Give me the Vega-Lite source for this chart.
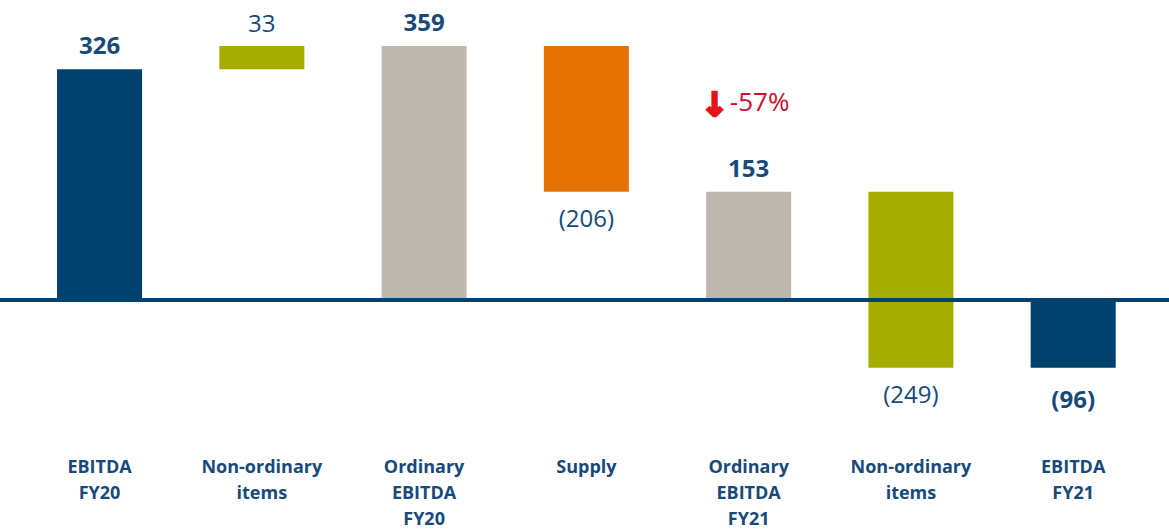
{
  "$schema": "https://vega.github.io/schema/vega-lite/v6.json",
  "autosize": "none",
  "padding": {"left": 0, "right": 0, "top": 0, "bottom": 91},
  "width": 1169,
  "height": 440,
  "background": "white",
  "config": {"view": {"stroke": null}, "font": "Open Sans"},
  "data": {
    "values": [
      {"name": "EBITDA|FY20", "type": "EBITDA", "lo": 0, "hi": 326, "label": "326", "pos": "above", "bold": true},
      {"name": "Non-ordinary|items", "type": "NonOrd", "lo": 326, "hi": 359, "label": "33", "pos": "above", "bold": false},
      {"name": "Ordinary|EBITDA|FY20", "type": "Ordinary", "lo": 0, "hi": 359, "label": "359", "pos": "above", "bold": true},
      {"name": "Supply", "type": "Supply", "lo": 153, "hi": 359, "label": "(206)", "pos": "below", "bold": false},
      {"name": "Ordinary|EBITDA|FY21", "type": "Ordinary", "lo": 0, "hi": 153, "label": "153", "pos": "above", "bold": true},
      {"name": "Non-ordinary|items ", "type": "NonOrd", "lo": -96, "hi": 153, "label": "(249)", "pos": "below", "bold": false},
      {"name": "EBITDA|FY21", "type": "EBITDA", "lo": -96, "hi": 0, "label": "(96)", "pos": "below", "bold": true}
    ]
  },
  "encoding": {
    "x": {
      "field": "name",
      "type": "nominal",
      "sort": null,
      "scale": {"paddingInner": 0.476, "paddingOuter": 0.34, "align": 0.517},
      "axis": {
        "title": null,
        "domain": false,
        "ticks": false,
        "tickSize": 0,
        "labelAngle": 0,
        "labelPadding": 18,
        "labelFont": "Open Sans",
        "labelFontSize": 18,
        "labelFontWeight": "bold",
        "labelColor": "#174A7A",
        "labelLineHeight": 26,
        "labelExpr": "split(datum.value, '|')"
      }
    }
  },
  "layer": [
    {
      "mark": {"type": "bar"},
      "encoding": {
        "y": {"field": "lo", "type": "quantitative", "scale": {"domain": [-198, 424], "nice": false, "zero": false}, "axis": null},
        "y2": {"field": "hi"},
        "color": {
          "field": "type",
          "type": "nominal",
          "scale": {"domain": ["EBITDA", "NonOrd", "Ordinary", "Supply"], "range": ["#00426F", "#A5AE00", "#BFB8AF", "#E57100"]},
          "legend": null
        }
      }
    },
    {
      "mark": {"type": "rule", "color": "#00426F", "strokeWidth": 4},
      "encoding": {"y": {"datum": 0, "type": "quantitative"}, "x": null}
    },
    {
      "transform": [{"filter": "datum.pos == 'above' && datum.bold"}],
      "mark": {"type": "text", "baseline": "alphabetic", "dy": -15, "fontSize": 24, "fontWeight": "bold", "color": "#174A7A"},
      "encoding": {"y": {"field": "hi", "type": "quantitative"}, "text": {"field": "label"}}
    },
    {
      "transform": [{"filter": "datum.pos == 'above' && !datum.bold"}],
      "mark": {"type": "text", "baseline": "alphabetic", "dy": -14, "fontSize": 24, "fontWeight": "normal", "color": "#174A7A"},
      "encoding": {"y": {"field": "hi", "type": "quantitative"}, "text": {"field": "label"}}
    },
    {
      "transform": [{"filter": "datum.pos == 'below' && !datum.bold"}],
      "mark": {"type": "text", "baseline": "middle", "dy": 28, "fontSize": 24, "fontWeight": "normal", "color": "#174A7A"},
      "encoding": {"y": {"field": "lo", "type": "quantitative"}, "text": {"field": "label"}}
    },
    {
      "transform": [{"filter": "datum.pos == 'below' && datum.bold"}],
      "mark": {"type": "text", "baseline": "middle", "dy": 33, "fontSize": 24, "fontWeight": "bold", "color": "#174A7A"},
      "encoding": {"y": {"field": "lo", "type": "quantitative"}, "text": {"field": "label"}}
    },
    {
      "data": {"values": [{"name": "Ordinary|EBITDA|FY21", "v": 278, "t": "-57%", "arrow": "↓"}]},
      "layer": [
        {
          "mark": {"type": "text", "baseline": "middle", "dx": 11, "fontSize": 26, "color": "#C8102E"},
          "encoding": {"y": {"field": "v", "type": "quantitative"}, "text": {"field": "t"}}
        },
        {
          "mark": {"type": "text", "baseline": "middle", "dx": -34, "dy": 3, "fontSize": 33, "fontWeight": "bold", "font": "DejaVu Sans", "color": "#E3141B", "stroke": "#E3141B", "strokeWidth": 2.5},
          "encoding": {"y": {"field": "v", "type": "quantitative"}, "text": {"field": "arrow"}}
        }
      ]
    }
  ]
}
